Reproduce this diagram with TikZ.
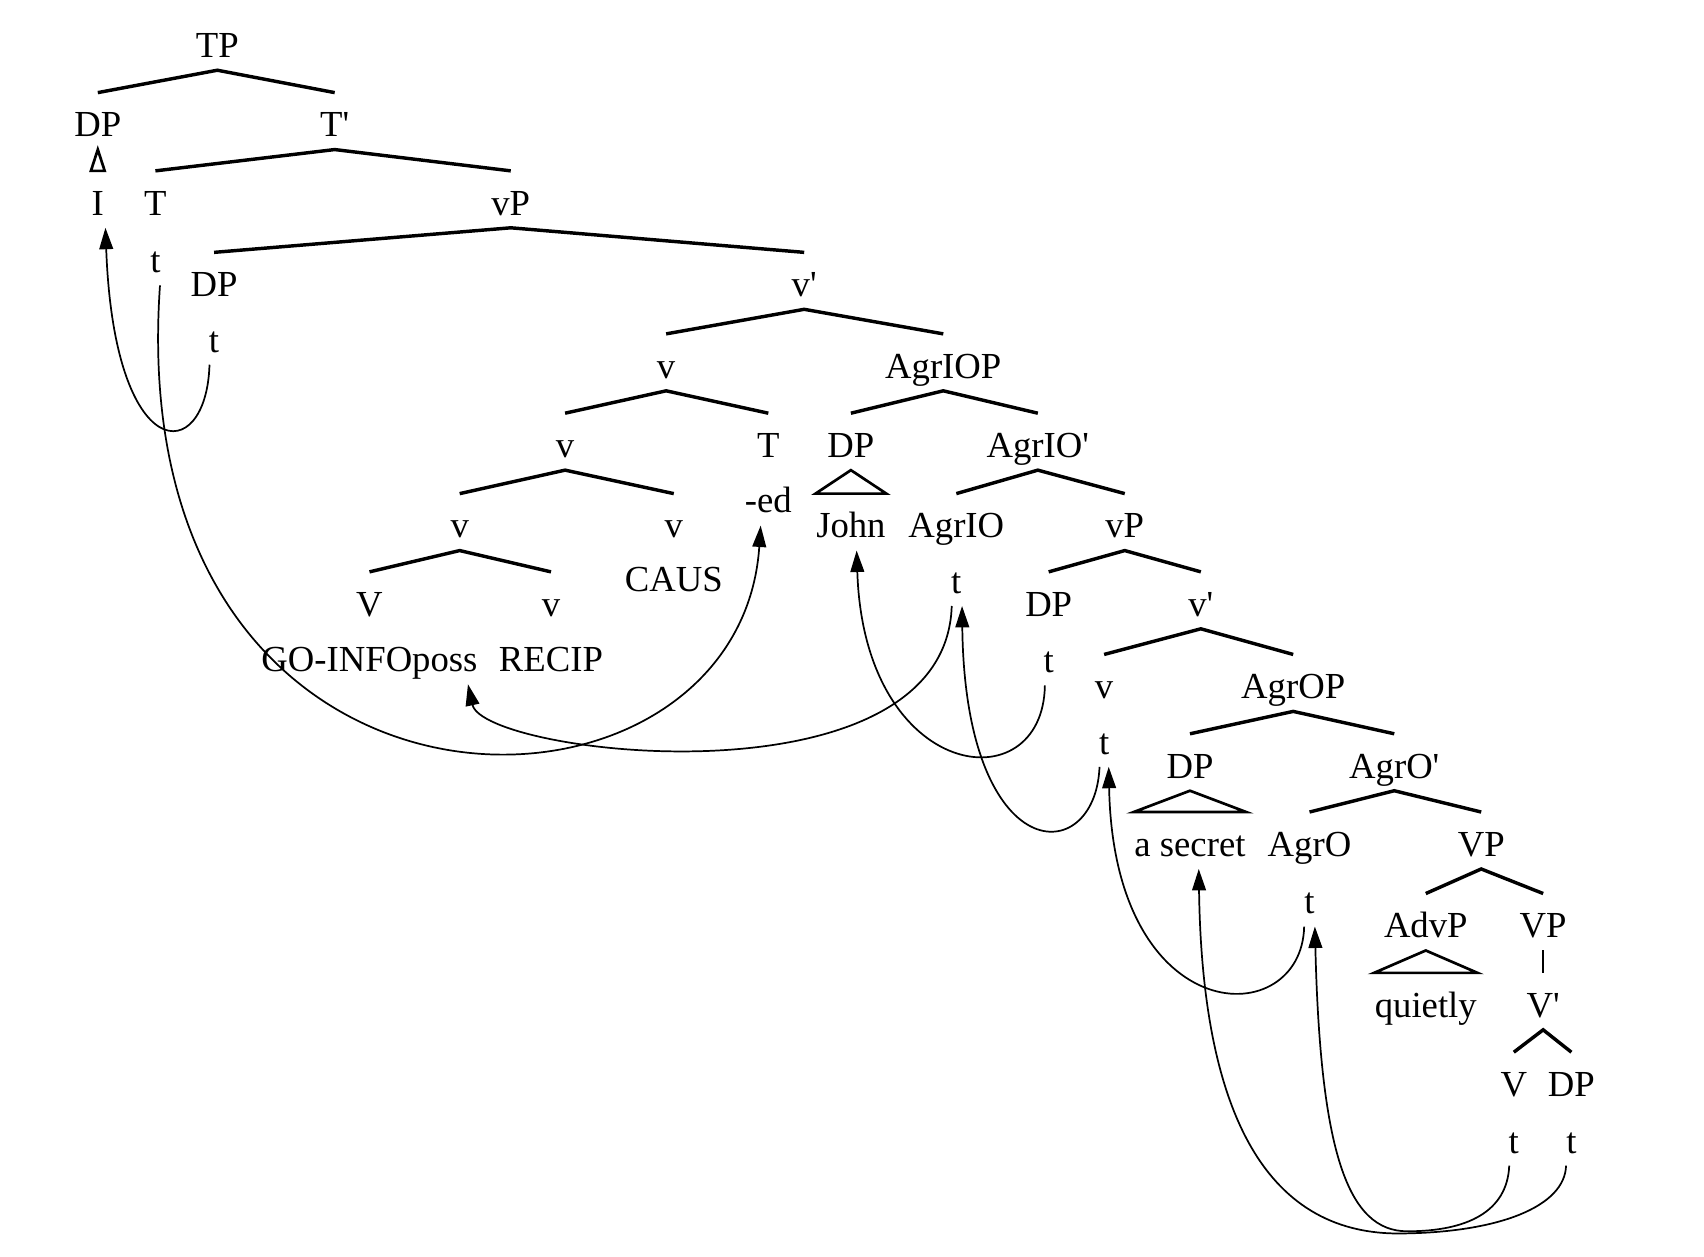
\documentclass[tikz,border=0pt]{standalone}
\usepackage{fontspec}
\newfontfamily\treefont{Liberation Serif}
\usetikzlibrary{arrows.meta}
\begin{document}
\begin{tikzpicture}[x=0.01cm,y=-0.01cm,
  lab/.style={font=\treefont\fontsize{9.6}{11}\selectfont, anchor=base,
    text height=10.4pt, text depth=2.1pt, inner ysep=1pt, inner xsep=0pt},
  branch/.style={line width=0.9pt, line join=miter},
  unary/.style={line width=0.6pt},
  tri/.style={line width=0.7pt, line join=miter},
  move/.style={line width=0.45pt, -{Triangle[length=5.6pt,width=3.6pt]}}
]
\useasboundingbox (0,0) rectangle (1568,1156);

% labels (placed on their baselines)
\node[lab] (TP)      at (200,53)   {TP};
\node[lab] (DP1)     at (90,126)   {DP};
\node[lab] (Tbar)    at (308,126)  {T'};
\node[lab] (I)       at (90,198)   {I};
\node[lab] (T)       at (143,198)  {T};
\node[lab] (vP1)     at (470,198)  {vP};
\node[lab] (tT)      at (143,251)  {t};
\node[lab] (DP2)     at (197,273)  {DP};
\node[lab] (vbar1)   at (740,273)  {v'};
\node[lab] (tDP2)    at (197,324)  {t};
\node[lab] (v1)      at (613,348)  {v};
\node[lab] (AgrIOP)  at (868,348)  {AgrIOP};
\node[lab] (v2)      at (520,421)  {v};
\node[lab] (T2)      at (707,421)  {T};
\node[lab] (DP3)     at (783,421)  {DP};
\node[lab] (AgrIObar) at (955,421) {AgrIO'};
\node[lab] (ed)      at (707,472)  {-ed};
\node[lab] (v3)      at (423,495)  {v};
\node[lab] (v4)      at (620,495)  {v};
\node[lab] (John)    at (783,495)  {John};
\node[lab] (AgrIO)   at (880,495)  {AgrIO};
\node[lab] (vP2)     at (1035,495) {vP};
\node[lab] (CAUS)    at (620,544)  {CAUS};
\node[lab] (tAgrIO)  at (880,546)  {t};
\node[lab] (V1)      at (340,567)  {V};
\node[lab] (v5)      at (507,567)  {v};
\node[lab] (DP4)     at (965,567)  {DP};
\node[lab] (vbar2)   at (1105,567) {v'};
\node[lab] (GO)      at (340,618)  {GO-INFOposs};
\node[lab] (RECIP)   at (507,618)  {RECIP};
\node[lab] (tDP4)    at (965,619)  {t};
\node[lab] (v6)      at (1016,643) {v};
\node[lab] (AgrOP)   at (1190,643) {AgrOP};
\node[lab] (tv6)     at (1016,694) {t};
\node[lab] (DP5)     at (1095,716) {DP};
\node[lab] (AgrObar) at (1283,716) {AgrO'};
\node[lab] (secret)  at (1095,788) {a secret};
\node[lab] (AgrO)    at (1205,788) {AgrO};
\node[lab] (VP1)     at (1363,788) {VP};
\node[lab] (tAgrO)   at (1205,841) {t};
\node[lab] (AdvP)    at (1312,863) {AdvP};
\node[lab] (VP2)     at (1420,863) {VP};
\node[lab] (quietly) at (1312,936) {quietly};
\node[lab] (Vbar)    at (1420,936) {V'};
\node[lab] (V2)      at (1393,1009) {V};
\node[lab] (DP6)     at (1446,1009) {DP};
\node[lab] (tV)      at (1393,1061) {t};
\node[lab] (tDP6)    at (1446,1061) {t};

% branches
\draw[branch] (DP1.north) -- (TP.south) -- (Tbar.north);
\draw[branch] (T.north) -- (Tbar.south) -- (vP1.north);
\draw[branch] (DP2.north) -- (vP1.south) -- (vbar1.north);
\draw[branch] (v1.north) -- (vbar1.south) -- (AgrIOP.north);
\draw[branch] (v2.north) -- (v1.south) -- (T2.north);
\draw[branch] (DP3.north) -- (AgrIOP.south) -- (AgrIObar.north);
\draw[branch] (v3.north) -- (v2.south) -- (v4.north);
\draw[branch] (AgrIO.north) -- (AgrIObar.south) -- (vP2.north);
\draw[branch] (V1.north) -- (v3.south) -- (v5.north);
\draw[branch] (DP4.north) -- (vP2.south) -- (vbar2.north);
\draw[branch] (v6.north) -- (vbar2.south) -- (AgrOP.north);
\draw[branch] (DP5.north) -- (AgrOP.south) -- (AgrObar.north);
\draw[branch] (AgrO.north) -- (AgrObar.south) -- (VP1.north);
\draw[branch] (AdvP.north) -- (VP1.south) -- (VP2.north);
\draw[unary]  (VP2.south) -- (Vbar.north);
\draw[branch] (V2.north) -- (Vbar.south) -- (DP6.north);

% phrasal triangles
\draw[tri] (DP1.south) -- (I.north west) -- (I.north east) -- cycle;
\draw[tri] (DP3.south) -- (John.north west) -- (John.north east) -- cycle;
\draw[tri] (DP5.south) -- (secret.north west) -- (secret.north east) -- cycle;
\draw[tri] (AdvP.south) -- (quietly.north west) -- (quietly.north east) -- cycle;

% movement arrows
\draw[move] ([xshift=-1.2pt]tDP2.south) .. controls (190,430) and (105,430) .. ([xshift=2pt]I.south);
\draw[move] ([xshift=1.2pt]tT.south) .. controls (110,795) and (680,785) .. ([xshift=-2pt]ed.south);
\draw[move] ([xshift=-1.2pt]tAgrIO.south) .. controls (870,745) and (445,695) .. ([xshift=-2.7pt]GO.south east);
\draw[move] ([xshift=-1pt]tDP4.south) .. controls (960,740) and (795,720) .. ([xshift=1.5pt]John.south);
\draw[move] ([xshift=-1.2pt]tv6.south) .. controls (1008,800) and (888,800) .. ([xshift=1.5pt]tAgrIO.south);
\draw[move] ([xshift=-1.4pt]tAgrO.south) .. controls (1198,950) and (1025,950) .. ([xshift=1.2pt]tv6.south);
\draw[move] ([xshift=-1.2pt]tV.south) .. controls (1387,1115) and (1350,1133) .. (1295,1133)
  .. controls (1240,1133) and (1215,1060) .. ([xshift=1.4pt]tAgrO.south);
\draw[move] ([xshift=-1.4pt]tDP6.south) .. controls (1440,1110) and (1380,1134) .. (1290,1135)
  .. controls (1160,1137) and (1106,1015) .. ([xshift=2.3pt]secret.south);
\end{tikzpicture}
\end{document}
